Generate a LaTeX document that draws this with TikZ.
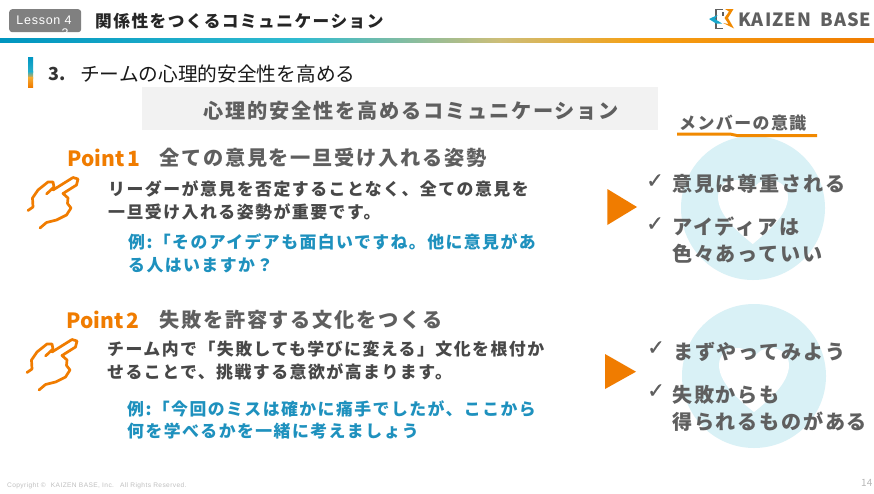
\documentclass[tikz,border=0pt]{standalone}
\usepackage{fontspec}
\setmainfont{Noto Sans CJK JP}
\newfontfamily\jp{Noto Sans CJK JP}
\newfontfamily\jpls[LetterSpace=8.7]{Noto Sans CJK JP}
\newfontfamily\logof[LetterSpace=6]{Noto Sans CJK JP}
\newfontfamily\libs[LetterSpace=6]{Liberation Sans}
\newfontfamily\djv[FakeBold=0.8]{DejaVu Sans}
\definecolor{orangeK}{HTML}{F07C00}
\definecolor{blueK}{HTML}{1E91BE}
\definecolor{grayT}{HTML}{5F5F5F}
\definecolor{darkT}{HTML}{484848}
\definecolor{circleK}{HTML}{D9F1F6}
\definecolor{barA}{RGB}{0,149,191}
\definecolor{barB}{RGB}{48,187,208}
\definecolor{barC}{RGB}{205,190,120}
\definecolor{barD}{RGB}{245,160,20}
\definecolor{sideA}{RGB}{0,150,195}
\definecolor{sideB}{RGB}{40,175,200}
\definecolor{sideC}{RGB}{245,170,50}
\definecolor{tagG}{RGB}{128,128,128}
\definecolor{bandG}{RGB}{242,242,242}
\newcommand{\fsz}[1]{\fontsize{#1}{#1}\selectfont}
\tikzset{x=1pt,y=-1pt,
 lbl/.style={inner sep=0pt,anchor=west,text depth=0pt},
 head/.style={lbl,font=\jpls\bfseries\fsz{20.2},text=grayT},
 pointl/.style={lbl,font=\jp\bfseries\fsz{21},text=orangeK},
 body/.style={lbl,font=\jpls\bfseries\fsz{16.9},text=darkT},
 ex/.style={lbl,font=\jpls\bfseries\fsz{16.85},text=blueK},
 right text/.style={lbl,font=\jpls\bfseries\fsz{20.1},text=grayT},
 chk/.style={lbl,font=\djv\fsz{21},text=grayT},
 hand/.style={draw=orangeK,line width=2.7pt,line cap=round,line join=round},
 heartshape/.style={fill=white,draw=none}
}
\begin{document}
\begin{tikzpicture}
\useasboundingbox (0,0) rectangle (874,493);
\fill[white] (0,0) rectangle (874,493);
% lesson tag
\node[fill=tagG,rounded corners=3pt,minimum width=72pt,minimum height=23pt,inner sep=0pt,anchor=north west] (tag) at (9,9) {};
\node[lbl,anchor=center,text=white,font=\libs\fsz{12.5}] (tagtxt) at (44,20) {Lesson 4};
\node[lbl,anchor=center,text=white,font=\libs\fsz{12.5}] (tagtwo) at (65,33.5) {3};
% top bar
\shade[left color=barA,right color=barB] (0,38) rectangle (300,42);
\shade[left color=barB,right color=barC] (299.5,38) rectangle (500,42);
\shade[left color=barC,right color=barD] (499.5,38) rectangle (640,42);
\shade[left color=barD,right color=orangeK] (639.5,38) rectangle (874,42);
\node[lbl,font=\jpls\bfseries\fsz{16.7},text=black!85] (title) at (95,20) {関係性をつくるコミュニケーション};
% logo
\draw[grayT,line width=1.5pt] (723,9.5) -- (716,9.5) -- (716,28.5) -- (723,28.5);
\draw[grayT,line width=1.5pt] (723,12) -- (723,16);
\fill[blueK!80!cyan] (709,19) -- (717.5,15) -- (715,19) -- (722,23.5) -- (716,23.5) -- cycle;
\fill[orangeK!90!yellow] (725,9) -- (733.5,9) -- (728,18) -- (734,28.5) -- (723,23) -- (728.5,24) -- (724.5,18) -- (729,11.5) -- cycle;
\node[lbl,font=\logof\bfseries\fsz{18.2},text=grayT] (logo) at (738,20) {KAIZEN\hspace{9pt}BASE};
% section title
\shade[top color=sideA,bottom color=sideB] (28,57) rectangle (33,72);
\shade[top color=sideB,bottom color=sideC] (28,71.5) rectangle (33,78);
\shade[top color=sideC,bottom color=orangeK] (28,77.5) rectangle (33,87);
\node[lbl,font=\jp\bfseries\fsz{18},text=black!80] (secnum) at (48,74) {3.};
\node[lbl,font=\jp\fsz{19.7},text=black!90] (sec) at (80,73) {チームの心理的安全性を高める};
% grey band
\node[fill=bandG,minimum width=516pt,minimum height=43pt,inner sep=0pt,anchor=north west] (band) at (142,87) {};
\node[head,anchor=center] (bandtxt) at (411.5,109.5) {心理的安全性を高めるコミュニケーション};
% circles with hearts
\fill[circleK] (753,208) circle (72);
\fill[heartshape] (752.7,244) .. controls (738,232) and (718,215) .. (718,197) .. controls (718,186) and (727,180) .. (736,180) .. controls (744,180) and (750,184) .. (752.7,190) .. controls (755.5,184) and (761,180) .. (769,180) .. controls (779,180) and (788,186) .. (788,197) .. controls (788,215) and (767,232) .. (752.7,244) -- cycle;
\fill[circleK] (754,376) circle (72);
\fill[heartshape] (754,412) .. controls (739,400) and (719,383) .. (719,365) .. controls (719,354) and (728,348) .. (737,348) .. controls (745,348) and (751,352) .. (754,358) .. controls (757,352) and (763,348) .. (771,348) .. controls (780,348) and (789,354) .. (789,365) .. controls (789,383) and (769,400) .. (754,412) -- cycle;
% member label
\node[lbl,font=\jpls\bfseries\fsz{16.9},text=grayT] (mem) at (679,122) {メンバーの意識};
\fill[orangeK!90!yellow] (677,132.5) -- (730,132.5) -- (737,134) -- (817,134) -- (817,137) -- (737,137) -- (730,135.5) -- (677,135.5) -- cycle;
% Point 1
\node[pointl] (p1) at (67,158) {Point\hspace{3pt}1};
\node[head] (h1) at (159,157) {全ての意見を一旦受け入れる姿勢};
\draw[hand] (28,210.5) -- (33,207) -- (32.5,198) -- (38,190) -- (48,182) -- (53,182) -- (54,187) -- (46.5,194);
\draw[hand] (53,190) -- (73,177.5) -- (78,179) -- (76.5,185) -- (63,193.5) -- (68,198) -- (67.5,203.5) -- (71,208) -- (66.5,215) -- (56.5,220) -- (46.5,222.5) -- (40,228);
\node[body] (b1a) at (108,188) {リーダーが意見を否定することなく、全ての意見を};
\node[body] (b1b) at (108,211) {一旦受け入れる姿勢が重要です。};
\node[ex] (e1a) at (128,241) {例:「そのアイデアも面白いですね。他に意見があ};
\node[ex] (e1b) at (128,264) {る人はいますか？};
% Point 2
\node[pointl] (p2) at (66,320) {Point\hspace{3pt}2};
\node[head] (h2) at (159,319) {失敗を許容する文化をつくる};
\draw[hand] (27,372.5) -- (32,369) -- (31.5,360) -- (37,352) -- (47,344) -- (52,344) -- (53,349) -- (45.5,356);
\draw[hand] (52,352) -- (72,339.5) -- (77,341) -- (75.5,347) -- (62,355.5) -- (67,360) -- (66.5,365.5) -- (70,370) -- (65.5,377) -- (55.5,382) -- (45.5,384.5) -- (39,390);
\node[body] (b2a) at (107,348) {チーム内で「失敗しても学びに変える」文化を根付か};
\node[body] (b2b) at (107,371) {せることで、挑戦する意欲が高まります。};
\node[ex] (e2a) at (127,408) {例:「今回のミスは確かに痛手でしたが、ここから};
\node[ex] (e2b) at (127,430) {何を学べるかを一緒に考えましょう};
% triangles
\fill[orangeK] (607.3,189) -- (637,207) -- (607.3,225) -- cycle;
\fill[orangeK] (605,354) -- (636,371.7) -- (605,389) -- cycle;
% right lists
\node[chk] (c1) at (646,181) {✓};
\node[right text] (r1) at (672,183) {意見は尊重される};
\node[chk] (c2) at (646,224) {✓};
\node[right text] (r2) at (672,226) {アイディアは};
\node[right text] (r3) at (672,253) {色々あっていい};
\node[chk] (c3) at (647,348) {✓};
\node[right text] (r4) at (673,351) {まずやってみよう};
\node[chk] (c4) at (647,391) {✓};
\node[right text] (r5) at (672,394) {失敗からも};
\node[right text] (r6) at (672,421) {得られるものがある};
% footer
\node[lbl,font=\libs\fsz{6.6},text=black!25] (copy) at (7,485.5) {Copyright ©\hspace{3pt} KAIZEN BASE, Inc.\hspace{3pt} All Rights Reserved.};
\node[lbl,font=\fsz{10},text=black!28] (pg) at (861,483) {14};
\end{tikzpicture}
\end{document}
